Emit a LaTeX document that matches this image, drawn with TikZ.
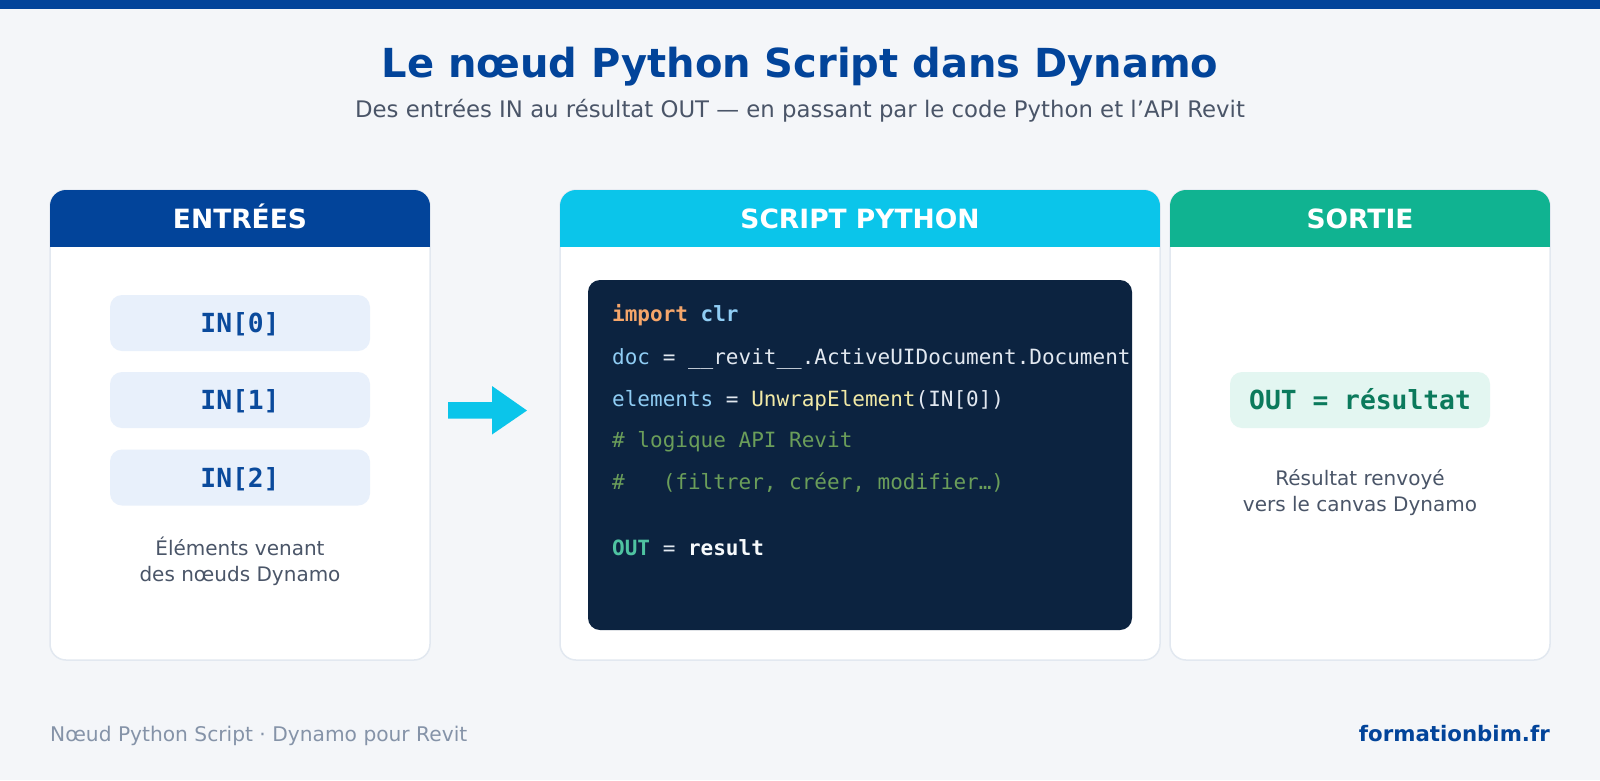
\documentclass[tikz,border=0pt]{standalone}
\usepackage{fontspec}
\setmainfont{DejaVu Sans}
\newfontfamily\codefont{DejaVu Sans Mono}
\definecolor{bgc}{HTML}{F4F6F9}
\definecolor{navy}{HTML}{02449A}
\definecolor{cyanh}{HTML}{0BC5EA}
\definecolor{greenh}{HTML}{10B391}
\definecolor{subg}{HTML}{4A5568}
\definecolor{footg}{HTML}{8593A8}
\definecolor{cardb}{HTML}{E2E8F0}
\definecolor{inbg}{HTML}{E8F0FB}
\definecolor{intx}{HTML}{0A4A9C}
\definecolor{outbg}{HTML}{E3F6F1}
\definecolor{outtx}{HTML}{0B7A5C}
\definecolor{codebg}{HTML}{0C2340}
\definecolor{ckw}{HTML}{F6A66A}
\definecolor{cvar}{HTML}{90CDF4}
\definecolor{ctxt}{HTML}{E2E8F0}
\definecolor{cfn}{HTML}{F1E9A6}
\definecolor{ccom}{HTML}{6B9E5A}
\definecolor{cout}{HTML}{4FC3A1}
\definecolor{cwhite}{HTML}{F7FAFC}
\tikzset{
  card/.style={draw=cardb, line width=1.5pt, fill=white, rounded corners=16pt, outer sep=0pt, inner sep=0pt},
  hdrtext/.style={font=\fontsize{26.5}{31}\selectfont\bfseries, text=white, anchor=base, inner sep=0pt},
  inbox/.style={fill=inbg, rounded corners=12pt, minimum width=260pt, minimum height=56pt, inner sep=0pt,
    font=\codefont\fontsize{26.3}{31}\selectfont\bfseries, text=intx, text height=19pt, text depth=0pt},
  outbox/.style={inbox, fill=outbg, text=outtx},
  desc/.style={font=\fontsize{20}{24}\selectfont, text=subg, anchor=base, inner sep=0pt},
  codeline/.style={font=\codefont\fontsize{21}{25}\selectfont, text=ctxt, anchor=base west, inner sep=0pt},
}
\begin{document}
\begin{tikzpicture}[x=1pt,y=-1pt]
\useasboundingbox (0,0) rectangle (1600,780);
\fill[bgc] (0,0) rectangle (1600,780);
\fill[navy] (0,0) rectangle (1600,8.5);

\node[font=\fontsize{40}{48}\selectfont\bfseries, text=navy, anchor=base, inner sep=0pt] (title) at (800,77.5) {Le nœud Python Script dans Dynamo};
\node[font=\fontsize{22.8}{27}\selectfont, text=subg, anchor=base, inner sep=0pt] (subtitle) at (800,117) {Des entrées IN au résultat OUT — en passant par le code Python et l’API Revit};

% cards
\node[card, minimum width=380pt, minimum height=470pt, anchor=north west] (entrees) at (50,190) {};
\node[card, minimum width=600pt, minimum height=470pt, anchor=north west] (script) at (560,190) {};
\node[card, minimum width=380pt, minimum height=470pt, anchor=north west] (sortie) at (1170,190) {};

\begin{scope}
\clip[rounded corners=16pt] (entrees.north west) rectangle (entrees.south east);
\fill[navy] (entrees.north west) rectangle ([yshift=-56.5pt]entrees.north east);
\end{scope}
\begin{scope}
\clip[rounded corners=16pt] (script.north west) rectangle (script.south east);
\fill[cyanh] (script.north west) rectangle ([yshift=-56.5pt]script.north east);
\end{scope}
\begin{scope}
\clip[rounded corners=16pt] (sortie.north west) rectangle (sortie.south east);
\fill[greenh] (sortie.north west) rectangle ([yshift=-56.5pt]sortie.north east);
\end{scope}

\node[hdrtext] (hentrees) at (240,228) {ENTRÉES};
\node[hdrtext] (hscript) at (860,228) {SCRIPT PYTHON};
\node[hdrtext] (hsortie) at (1360,228) {SORTIE};

% inputs
\node[inbox] (in0) at (240,323) {IN[0]};
\node[inbox] (in1) at (240,400) {IN[1]};
\node[inbox] (in2) at (240,477.5) {IN[2]};
\node[desc] (d1a) at (240,555.5) {Éléments venant};
\node[desc] (d1b) at (240,581) {des nœuds Dynamo};

% arrow
\coordinate (arrA) at (448,410.5);
\fill[cyanh] (arrA) ++(0,-8.5) -- ++(44,0) -- ++(0,-16) -- (527,410.5) -- (492,434.5) -- ++(0,-16) -- ++(-44,0) -- cycle;

% code
\node[fill=codebg, rounded corners=12pt, minimum width=544pt, minimum height=350pt, inner sep=0pt, outer sep=0pt, anchor=north west] (code) at (588,280) {};
\begin{scope}
\clip[rounded corners=12pt] (code.north west) rectangle (code.south east);
\node[codeline] (l1) at (612,321.5) {\textbf{\textcolor{ckw}{import} \textcolor{cvar}{clr}}};
\node[codeline] (l2) at (612,364) {\textcolor{cvar}{doc} = \_\_revit\_\_.ActiveUIDocument.Document};
\node[codeline] (l3) at (612,406) {\textcolor{cvar}{elements} = \textcolor{cfn}{UnwrapElement}(IN[0])};
\node[codeline, text=ccom] (l4) at (612,447.5) {\# logique API Revit};
\node[codeline, text=ccom] (l5) at (612,489.5) {\#\ \ \ (filtrer, créer, modifier…)};
\node[codeline] (l6) at (612,555.5) {\textbf{\textcolor{cout}{OUT}} = \textbf{\textcolor{cwhite}{result}}};
\end{scope}

% output
\node[outbox] (out) at (1360,400) {OUT = résultat};
\node[desc] (d3a) at (1360,485.5) {Résultat renvoyé};
\node[desc] (d3b) at (1360,511.5) {vers le canvas Dynamo};

% footer
\node[font=\fontsize{20.2}{24}\selectfont, text=footg, anchor=base west, inner sep=0pt] (footl) at (50,741) {Nœud Python Script · Dynamo pour Revit};
\node[font=\fontsize{21.3}{25}\selectfont\bfseries, text=navy, anchor=base east, inner sep=0pt] (footr) at (1550,741) {formationbim.fr};
\end{tikzpicture}
\end{document}
